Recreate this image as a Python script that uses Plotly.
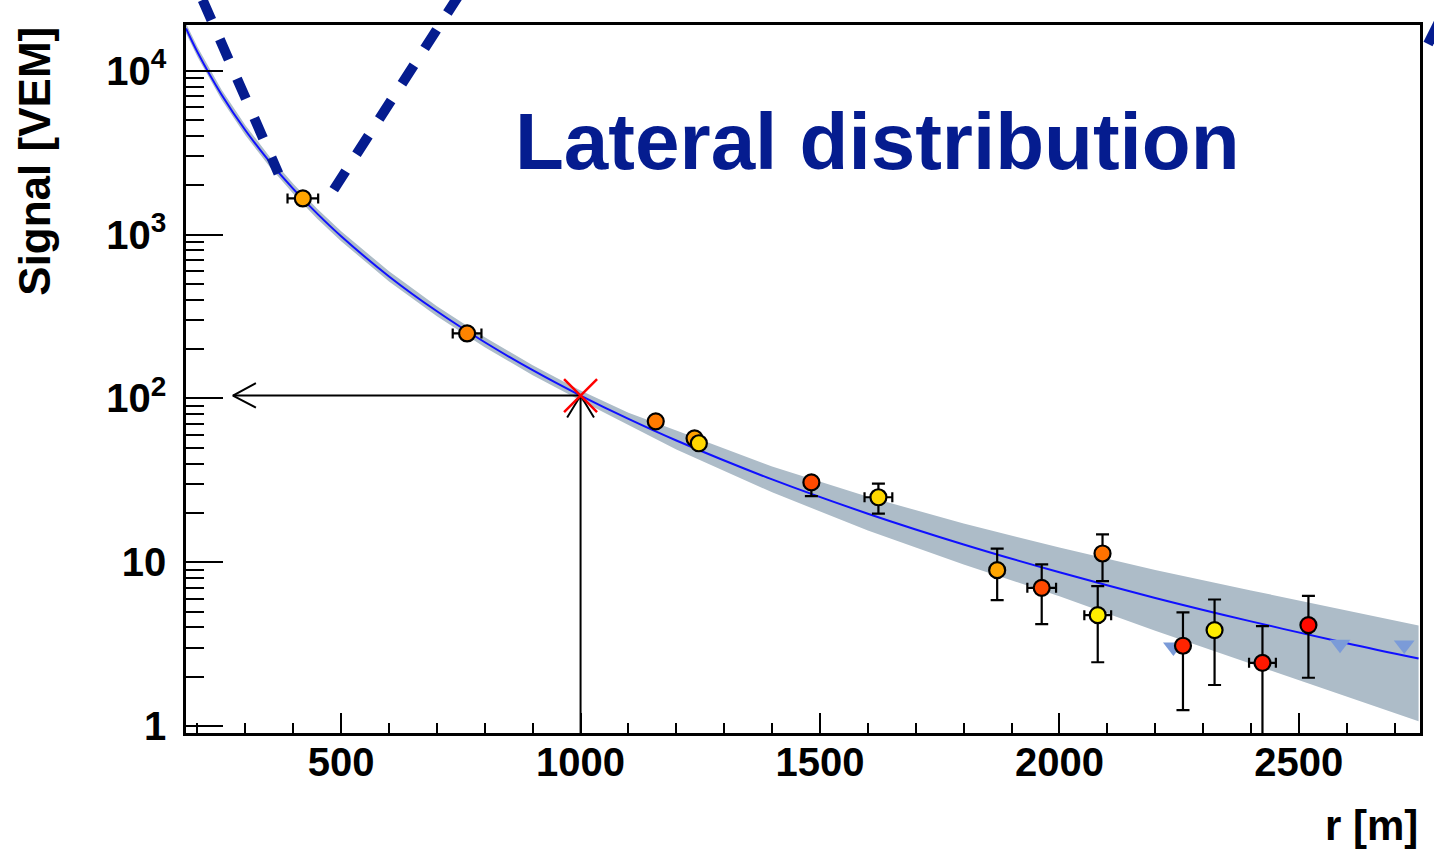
import numpy as np
import plotly.graph_objects as go

# Fitted lateral distribution function S(r) sampled along r, with its uncertainty band
fit_r = [176, 200, 250, 300, 350, 400, 450, 500, 600, 700, 800, 900, 1000,
         1100, 1200, 1400, 1600, 1800, 2000, 2200, 2400, 2600, 2750]
fit_s = [18130, 12990, 7160, 4330, 2800, 1901, 1341, 976, 555, 340, 220, 148.6, 104,
         74.9, 55.3, 32.0, 19.77, 12.83, 8.67, 6.05, 4.35, 3.20, 2.58]
band_hi = [19450, 13940, 7680, 4650, 3005, 2040, 1439, 1047, 596, 365, 236, 159.4, 111.6,
           81.6, 63.7, 38.4, 25.1, 17.2, 12.3, 8.97, 6.72, 5.08, 4.10]
band_lo = [16900, 12110, 6670, 4035, 2610, 1772, 1250, 910, 517, 317, 205, 138.5, 96.9,
           68.9, 48.7, 26.7, 15.6, 9.69, 6.19, 3.81, 2.41, 1.52, 1.07]

# Triggered stations: distance, signal, signal interval ends, distance error, colour
st_r = [420, 763, 1157, 1238, 1247, 1482, 1622, 1870, 1963, 2090, 2080, 2258, 2324, 2424, 2520]
st_s = [1660, 249, 72.4, 57.0, 53.2, 30.7, 24.9, 8.94, 6.97, 11.3, 4.75, 3.09, 3.85, 2.43, 4.13]
st_s_hi = [1700, 255, 74.0, 58.0, 54.5, 32.0, 30.2, 12.1, 9.7, 14.8, 7.14, 4.94, 5.92, 4.07, 6.23]
st_s_lo = [1620, 243, 71.0, 56.0, 52.0, 25.3, 19.8, 5.87, 4.19, 7.66, 2.45, 1.25, 1.78, 0.5, 1.97]
st_r_err = [32, 30, 0, 0, 0, 0, 29, 0, 30, 0, 28, 0, 0, 28, 0]
st_color = ["#ffa500", "#ff8400", "#ff7a00", "#ffa000", "#ffd700", "#ff4a00", "#ffd700",
            "#ffa500", "#ff4a00", "#ff7200", "#ffee00", "#ff2400", "#ffee00", "#ff1800", "#ff0a00"]

# Silent stations (upper limits)
silent_r = [2238, 2586, 2720]
silent_s = [3.04, 3.15, 3.12]

# Reference distance and interpolated signal at it
r_opt = 1000
s_opt = 104

X_RANGE = [176, 2753]
Y_LOG_RANGE = [-0.0427, 4.279]
y_floor = 10 ** Y_LOG_RANGE[0]

NAVY = "#051c8f"
FONT = "Liberation Sans"

fig = go.Figure()

# uncertainty band
fig.add_trace(go.Scatter(x=fit_r, y=band_lo, mode="lines", line=dict(width=0, color="#adbcc8"),
                         showlegend=False, hoverinfo="skip"))
fig.add_trace(go.Scatter(x=fit_r, y=band_hi, mode="lines", line=dict(width=0, color="#adbcc8"),
                         fill="tonexty", fillcolor="#adbcc8", showlegend=False, hoverinfo="skip"))
# fit curve
fig.add_trace(go.Scatter(x=fit_r, y=fit_s, mode="lines", line=dict(color="#1010ff", width=2),
                         line_shape="spline", showlegend=False))

# arrows from the reference point to both axes (open heads)
fig.add_trace(go.Scatter(x=[r_opt, r_opt], y=[y_floor, s_opt], mode="lines",
                         line=dict(color="black", width=2), showlegend=False))
fig.add_trace(go.Scatter(x=[r_opt - 28, r_opt, r_opt + 28], y=[s_opt * 0.735, s_opt, s_opt * 0.735],
                         mode="lines", line=dict(color="black", width=2), showlegend=False))
fig.add_trace(go.Scatter(x=[r_opt, 274], y=[s_opt, s_opt], mode="lines",
                         line=dict(color="black", width=2), showlegend=False))
fig.add_trace(go.Scatter(x=[322, 274, 322], y=[s_opt * 1.19, s_opt, s_opt / 1.185],
                         mode="lines", line=dict(color="black", width=2), showlegend=False))

# silent stations
fig.add_trace(go.Scatter(x=silent_r, y=silent_s, mode="markers",
                         marker=dict(symbol="triangle-down", size=18, color="#7b9bd8"),
                         showlegend=False))

# stations with error bars
err_plus = [h - s for h, s in zip(st_s_hi, st_s)]
err_minus = [s - l for s, l in zip(st_s, st_s_lo)]
fig.add_trace(go.Scatter(
    x=st_r, y=st_s, mode="markers",
    marker=dict(symbol="circle", size=16, color=st_color, line=dict(color="black", width=2.2)),
    error_y=dict(type="data", symmetric=False, array=err_plus, arrayminus=err_minus,
                 color="black", thickness=2.2, width=6.5),
    error_x=dict(type="data", array=st_r_err, color="black", thickness=2.2, width=5),
    showlegend=False))

# reference point marker
fig.add_trace(go.Scatter(x=[r_opt], y=[s_opt], mode="markers",
                         marker=dict(symbol="x-thin", size=33, line=dict(color="#ff0000", width=2.5)),
                         showlegend=False))

minor_y = [m * 10 ** k for k in range(0, 4) for m in range(2, 10)]
minor_x = [v for v in range(200, 2800, 100) if v % 500]

fig.update_xaxes(
    range=X_RANGE, showgrid=False, zeroline=False,
    showline=True, linecolor="black", linewidth=2.5, mirror=True,
    ticks="inside", ticklen=20, tickwidth=2, tickcolor="black",
    tickvals=[500, 1000, 1500, 2000, 2500],
    tickfont=dict(family=FONT, size=40, color="black", weight="bold"),
    ticklabelstandoff=-8,
    minor=dict(tickmode="array", tickvals=minor_x, ticks="inside", ticklen=10,
               tickwidth=2, tickcolor="black", showgrid=False),
)
fig.update_yaxes(
    type="log", range=Y_LOG_RANGE, showgrid=False, zeroline=False,
    showline=True, linecolor="black", linewidth=2.5, mirror=True,
    ticks="inside", ticklen=37, tickwidth=2, tickcolor="black",
    tickvals=[1, 10, 100, 1000, 10000],
    ticktext=["1", "10", "10<sup>2</sup>", "10<sup>3</sup>", "10<sup>4</sup>"],
    tickfont=dict(family=FONT, size=40, color="black", weight="bold"),
    ticklabelstandoff=9,
    minor=dict(tickmode="array", tickvals=minor_y, ticks="inside", ticklen=18,
               tickwidth=2, tickcolor="black", showgrid=False),
)

# callout dashes around the innermost station
dash_lines = [
    dict(x0=-0.0005, y0=1.0911, x1=0.0749, y1=0.7904, dash="22px,21px"),
    dict(x0=0.2399, y0=1.0929, x1=0.1191, y1=0.7657, dash="22px,20px"),
    dict(x0=1.0065, y0=0.9732, x1=1.0178, y1=1.0127, dash="solid"),
]
for d in dash_lines:
    fig.add_shape(type="line", xref="paper", yref="paper", x0=d["x0"], y0=d["y0"],
                  x1=d["x1"], y1=d["y1"], line=dict(color=NAVY, width=10, dash=d["dash"]))

fig.add_annotation(text="<b>Lateral distribution</b>", xref="paper", yref="paper",
                   x=0.265, y=0.835, xanchor="left", yanchor="middle", showarrow=False,
                   font=dict(family=FONT, size=80, color=NAVY))
fig.add_annotation(text="<b>Signal [VEM]</b>", xref="paper", yref="paper",
                   x=-0.123, y=1.0, xanchor="center", yanchor="top", textangle=-90,
                   showarrow=False, font=dict(family=FONT, size=44, color="black"))
fig.add_annotation(text="<b>r [m]</b>", xref="paper", yref="paper",
                   x=1.0, y=-0.13, xanchor="right", yanchor="middle", showarrow=False,
                   font=dict(family=FONT, size=42, color="black"))

fig.update_layout(
    width=1434, height=866,
    margin=dict(l=186, r=11, t=25, b=133),
    paper_bgcolor="white", plot_bgcolor="white",
    showlegend=False,
)

fig.write_html("out.html")
